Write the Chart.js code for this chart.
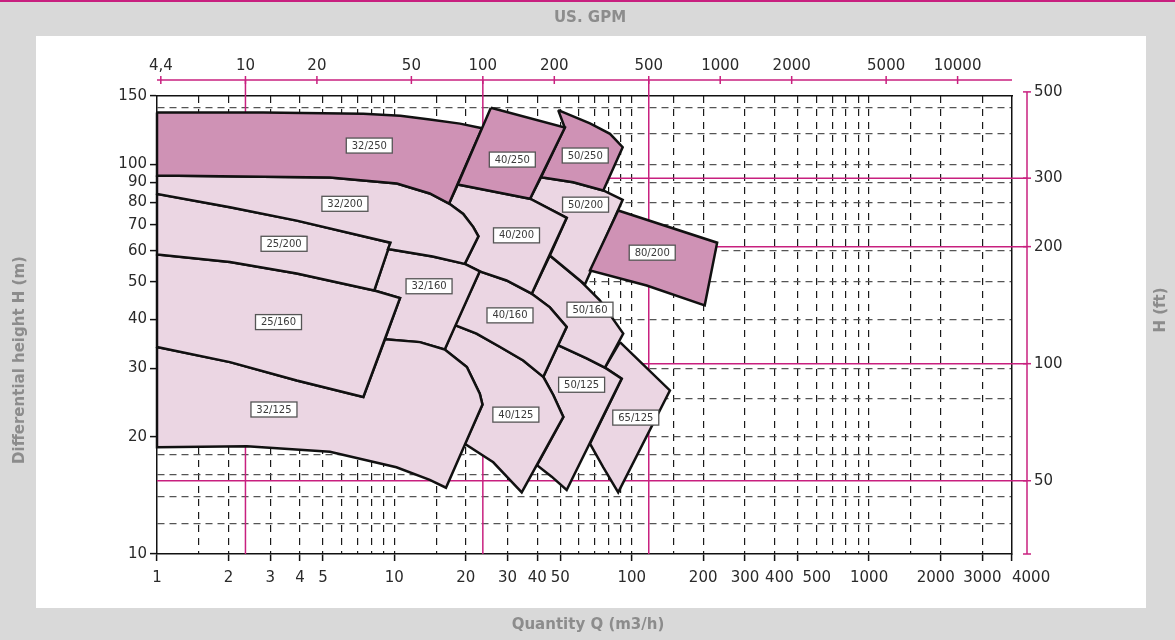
<!DOCTYPE html>
<html>
<head>
<meta charset="utf-8">
<title>Pump selection chart</title>
<script src="https://cdn.jsdelivr.net/npm/chart.js@4.4.1/dist/chart.umd.min.js"></script>
<style>
  html, body { margin: 0; padding: 0; background: #d9d9d9; }
  canvas { display: block; }
</style>
</head>
<body>
<canvas id="curvas" width="1175" height="640"></canvas>
<script>
// axis ticks and grid values
const qTicks = [1, 2, 3, 4, 5, 10, 20, 30, 40, 50, 100, 200, 300, 400, 500, 1000, 2000, 3000, 4000];
// crowded labels are nudged with spaces, like the printed sheet
const qLabels = ['1', '2', '3', '4', '5', '10', '20', '30', '40', '50', '100', '200', '300',
    '  400', '\u2007\u2007\u2007\u2007500', '1000', '2000\u2007', '3000', '\u2007\u2007\u2007\u20074000'];
const qGrid = [1.5, 2, 3, 4, 5, 6, 7, 8, 9, 10, 15, 20, 30, 40, 50, 60, 70, 80, 90, 100, 150, 200, 300, 400, 500, 600, 700, 800, 900, 1000, 1500, 2000, 3000];
const hTicks = [10, 20, 30, 40, 50, 60, 70, 80, 90, 100, 150];
const hGrid = [12, 14, 16, 18, 20, 25, 30, 40, 50, 60, 70, 80, 90, 100, 120, 140];
const gpmTicks = [4.4, 10, 20, 50, 100, 200, 500, 1000, 2000, 5000, 10000];
const gpmLabels = ['4,4', '10', '20', '50', '100', '200', '500', '1000', '2000', '5000', '10000'];
const gpmLines = [10, 100, 500];
const ftTicks = [50, 100, 200, 300, 500];
const ftLines = [50, 100, 200, 300];

// pump fields, outline as [Q m3/h, H m]
const p32_250 = [[1,136],[2.8,136],[7.4,135],[10.6,133.5],[14.1,130.5],[18.9,127.4],[23.4,124],[17,79.4],[14.1,84.3],[10.25,89.4],[5.35,92.6],[2.8,93.1],[1,93.7]];
const p40_250 = [[25.5,140],[52.3,124.4],[37.3,81.7],[27.1,84.9],[18.5,88.9]];
const p50_250 = [[49,138],[66.7,127.6],[81,119.9],[91.6,110.8],[75.9,85.8],[56.7,90.1],[41.5,92.8],[52.2,124.5]];
const p80_200 = [[87.7,76.2],[229,63],[203,43.5],[115.6,48.9],[66.7,53.5]];
const p32_200 = [[1,93.7],[2.8,93.1],[5.35,92.6],[10.25,89.4],[14.1,84.3],[17,79.4],[19.5,74.7],[21.5,69.1],[22.6,65.4],[19.8,55.6],[14.5,58.1],[9.4,60.7],[9.63,63],[3.88,71.8],[2.03,77.7],[1,84.1]];
const p25_200 = [[1,84.1],[2.03,77.7],[3.88,71.8],[9.63,63],[8.23,47.5],[3.88,52.5],[2.03,56.2],[1,58.8]];
const p25_160 = [[1,58.8],[2.03,56.2],[3.88,52.5],[8.23,47.5],[10.56,45.4],[7.4,25.3],[3.88,27.9],[2.03,31.1],[1,34]];
const p32_125 = [[1,34],[2.03,31.1],[3.88,27.9],[7.4,25.3],[9.13,35.6],[12.8,35],[16.3,33.5],[20.2,30.2],[22.9,25.8],[23.5,24.2],[16.5,14.8],[14.1,15.5],[10.2,16.7],[5.35,18.3],[2.39,18.9],[1,18.8]];
const p32_160 = [[9.4,60.7],[14.5,58.1],[19.8,55.6],[22.9,53.2],[16.3,33.5],[12.8,35],[9.13,35.6],[10.56,45.4],[8.23,47.5]];
const p40_200 = [[18.5,88.9],[27.1,84.9],[37.3,81.7],[53.2,73],[37.9,46.6],[29.7,50.4],[22.9,53.2],[19.8,55.6],[22.6,65.4],[21.5,69.1],[19.5,74.7],[17,79.4]];
const p40_160 = [[22.9,53.2],[29.7,50.4],[37.9,46.6],[45.2,43],[53.2,38.3],[42.4,28.5],[34.9,31.4],[27.9,34],[22.2,36.8],[18,38.7]];
const p40_125 = [[18,38.7],[22.2,36.8],[27.9,34],[34.9,31.4],[42.4,28.5],[46.7,25.6],[51.5,22.5],[34.4,14.4],[26.1,17.2],[19.8,19.2],[23.5,24.2],[22.9,25.8],[20.2,30.2],[16.3,33.5]];
const p50_200 = [[41.5,92.8],[56.7,90.1],[75.9,85.8],[91.6,81.2],[63.5,49.2],[45.2,58.4],[53.2,73],[37.3,81.7]];
const p50_160 = [[45.2,58.4],[60.5,50.4],[73.4,44.8],[92.1,36.8],[77.1,30.1],[64.6,31.8],[48.9,34.4],[53.2,38.3],[45.2,43],[37.9,46.6]];
const p50_125 = [[48.9,34.4],[64.6,31.8],[77.1,30.1],[90.7,28.2],[53.2,14.6],[46,15.8],[39.9,16.9],[51.5,22.5],[46.7,25.6],[42.4,28.5]];
const p65_125 = [[89.2,35],[144.8,26.3],[87.7,14.4],[75.9,16.7],[66.7,19.2],[90.7,28.2],[77.1,30.1]];

// field labels
const labelNames = ['32/250', '40/250', '50/250', '32/200', '40/200', '50/200', '25/200', '80/200', '32/160', '25/160', '40/160', '50/160', '32/125', '40/125', '50/125', '65/125'];
const labelQ = [7.84, 31.4, 63.7, 6.19, 32.7, 63.9, 3.43, 122, 14, 3.25, 30.7, 66.7, 3.11, 32.5, 61.5, 104];
const labelH = [111.9, 103, 105.5, 79.3, 65.8, 78.9, 62.6, 59.4, 48.7, 39.4, 41, 42.4, 23.5, 22.8, 27.2, 22.4];

const lightShapes = [p32_200, p25_200, p25_160, p32_125, p32_160, p40_200, p40_160, p40_125, p50_200, p50_160, p50_125, p65_125];
const darkShapes = [p40_250, p32_250, p80_200, p50_250]; // first one lies on top

const pink = '#c8207f';
const dark = '#cf92b5';
const light = '#ebd6e3';
const tickFont = { family: 'DejaVu Sans', size: 15 };
const tickColor = '#2a2a2a';

const qAll = [...new Set(qTicks.concat(qGrid))].sort((a, b) => a - b);
const hAll = [...new Set(hTicks.concat(hGrid))].sort((a, b) => a - b);

function shape(points, fillColor, order) {
    return {
        data: points.concat([points[0]]),
        showLine: true,
        fill: 'shape',
        backgroundColor: fillColor,
        borderColor: '#111',
        borderWidth: 2.5,
        pointRadius: 0,
        tension: 0,
        clip: false,
        order: order
    };
}

const datasets = darkShapes.map((p, i) => shape(p, dark, i))
    .concat(lightShapes.map(p => shape(p, light, 10)));

// gray frame, white panel and titles
const framePlugin = {
    id: 'frame',
    beforeDraw(chart) {
        const ctx = chart.ctx;
        ctx.save();
        ctx.fillStyle = '#d9d9d9';
        ctx.fillRect(0, 0, chart.width, chart.height);
        ctx.fillStyle = '#ffffff';
        ctx.fillRect(36, 36, 1110, 572);
        ctx.fillStyle = pink;
        ctx.fillRect(0, 0, chart.width, 2);

        ctx.fillStyle = '#8c8c8c';
        ctx.font = 'bold 15px "DejaVu Sans"';
        ctx.textAlign = 'center';
        ctx.textBaseline = 'middle';
        ctx.fillText('US. GPM', 590, 18);
        ctx.fillText('Quantity Q (m3/h)', 588, 625);

        ctx.translate(20, 360);
        ctx.rotate(-Math.PI / 2);
        ctx.fillText('Differential height H (m)', 0, 0);
        ctx.restore();

        ctx.save();
        ctx.fillStyle = '#8c8c8c';
        ctx.font = 'bold 15px "DejaVu Sans"';
        ctx.textAlign = 'center';
        ctx.textBaseline = 'middle';
        ctx.translate(1161, 310);
        ctx.rotate(-Math.PI / 2);
        ctx.fillText('H (ft)', 0, 0);
        ctx.restore();
    }
};

// pink GPM / ft reference axes and lines
const pinkPlugin = {
    id: 'pinkLines',
    beforeDatasetsDraw(chart) {
        const { ctx, chartArea: area, scales } = chart;
        const line = (x1, y1, x2, y2) => {
            ctx.beginPath();
            ctx.moveTo(x1, y1);
            ctx.lineTo(x2, y2);
            ctx.stroke();
        };
        ctx.save();
        ctx.strokeStyle = pink;
        ctx.lineWidth = 1.5;

        const axY = area.top - 16;
        line(area.left, axY, area.right, axY);
        gpmTicks.forEach(v => {
            const px = scales.x2.getPixelForValue(v);
            line(px, axY - 4, px, axY + 4);
        });
        gpmLines.forEach(v => {
            const px = scales.x2.getPixelForValue(v);
            line(px, axY, px, area.bottom);
        });

        const axX = area.right + 15;
        const topFt = scales.y2.getPixelForValue(ftTicks[ftTicks.length - 1]);
        line(axX, topFt, axX, area.bottom);
        line(axX - 4, area.bottom, axX + 4, area.bottom);
        ftTicks.forEach(v => {
            const py = scales.y2.getPixelForValue(v);
            line(axX - 4, py, axX + 4, py);
        });
        ftLines.forEach(v => {
            const py = scales.y2.getPixelForValue(v);
            line(area.left, py, axX, py);
        });
        ctx.restore();
    }
};

// white name boxes on each field
const labelPlugin = {
    id: 'fieldLabels',
    afterDatasetsDraw(chart) {
        const { ctx, scales } = chart;
        ctx.save();
        ctx.font = '10px "DejaVu Sans"';
        ctx.textAlign = 'center';
        ctx.textBaseline = 'middle';
        labelNames.forEach((name, i) => {
            const px = scales.x.getPixelForValue(labelQ[i]);
            const py = scales.y.getPixelForValue(labelH[i]);
            ctx.fillStyle = '#ffffff';
            ctx.fillRect(px - 23, py - 7.5, 46, 15);
            ctx.strokeStyle = '#555';
            ctx.lineWidth = 1.3;
            ctx.strokeRect(px - 23, py - 7.5, 46, 15);
            ctx.fillStyle = '#3a3a3a';
            ctx.fillText(name, px, py + 0.5);
        });
        ctx.restore();
    }
};

new Chart(document.getElementById('curvas'), {
    type: 'scatter',
    data: { datasets: datasets },
    plugins: [framePlugin, pinkPlugin, labelPlugin],
    options: {
        responsive: false,
        animation: false,
        events: [],
        layout: { padding: 0 },
        plugins: {
            legend: { display: false },
            tooltip: { enabled: false }
        },
        scales: {
            x: {
                type: 'logarithmic',
                position: 'bottom',
                min: 1,
                max: 4000,
                afterBuildTicks: s => { s.ticks = qAll.map(v => ({ value: v })); },
                afterFit: s => { s.height = 86; },
                ticks: {
                    autoSkip: false,
                    maxRotation: 0,
                    padding: 8,
                    color: tickColor,
                    font: tickFont,
                    callback: v => {
                        const i = qTicks.indexOf(v);
                        return i >= 0 ? qLabels[i] : '';
                    }
                },
                grid: {
                    color: c => (c.tick && qGrid.includes(c.tick.value)) ? '#1a1a1a' : 'transparent',
                    lineWidth: 1.2,
                    tickLength: 7,
                    tickWidth: 1.5,
                    tickBorderDash: [],
                    tickColor: c => (c.tick && qTicks.includes(c.tick.value)) ? '#111' : 'transparent'
                },
                border: { color: '#111', width: 1.5, dash: [7, 6] }
            },
            y: {
                type: 'logarithmic',
                position: 'left',
                min: 10,
                max: 150,
                afterBuildTicks: s => { s.ticks = hAll.map(v => ({ value: v })); },
                afterFit: s => { s.width = 157; },
                ticks: {
                    autoSkip: false,
                    padding: 3,
                    color: tickColor,
                    font: tickFont,
                    callback: v => hTicks.includes(v) ? String(v) : ''
                },
                grid: {
                    color: c => (c.tick && hGrid.includes(c.tick.value)) ? '#555' : 'transparent',
                    lineWidth: 1.2,
                    tickLength: 7,
                    tickWidth: 1.5,
                    tickBorderDash: [],
                    tickColor: c => (c.tick && hTicks.includes(c.tick.value)) ? '#111' : 'transparent'
                },
                border: { color: '#111', width: 1.5, dash: [7, 5] }
            },
            x2: {
                type: 'logarithmic',
                position: 'top',
                min: 4.24,
                max: 16950,
                afterBuildTicks: s => { s.ticks = gpmTicks.map(v => ({ value: v })); },
                afterFit: s => { s.height = 96; },
                ticks: {
                    autoSkip: false,
                    maxRotation: 0,
                    padding: 21,
                    color: tickColor,
                    font: tickFont,
                    callback: (v, i) => gpmLabels[i]
                },
                grid: { display: false, drawTicks: false },
                border: { color: '#111', width: 1.5 }
            },
            y2: {
                type: 'logarithmic',
                position: 'right',
                min: 32.4,
                max: 488,
                afterBuildTicks: s => { s.ticks = ftTicks.map(v => ({ value: v })); },
                afterFit: s => { s.width = 163; },
                ticks: {
                    autoSkip: false,
                    padding: 22,
                    color: tickColor,
                    font: tickFont,
                    callback: v => String(v)
                },
                grid: { display: false, drawTicks: false },
                border: { color: '#111', width: 1.5 }
            }
        }
    }
});
</script>
</body>
</html>
